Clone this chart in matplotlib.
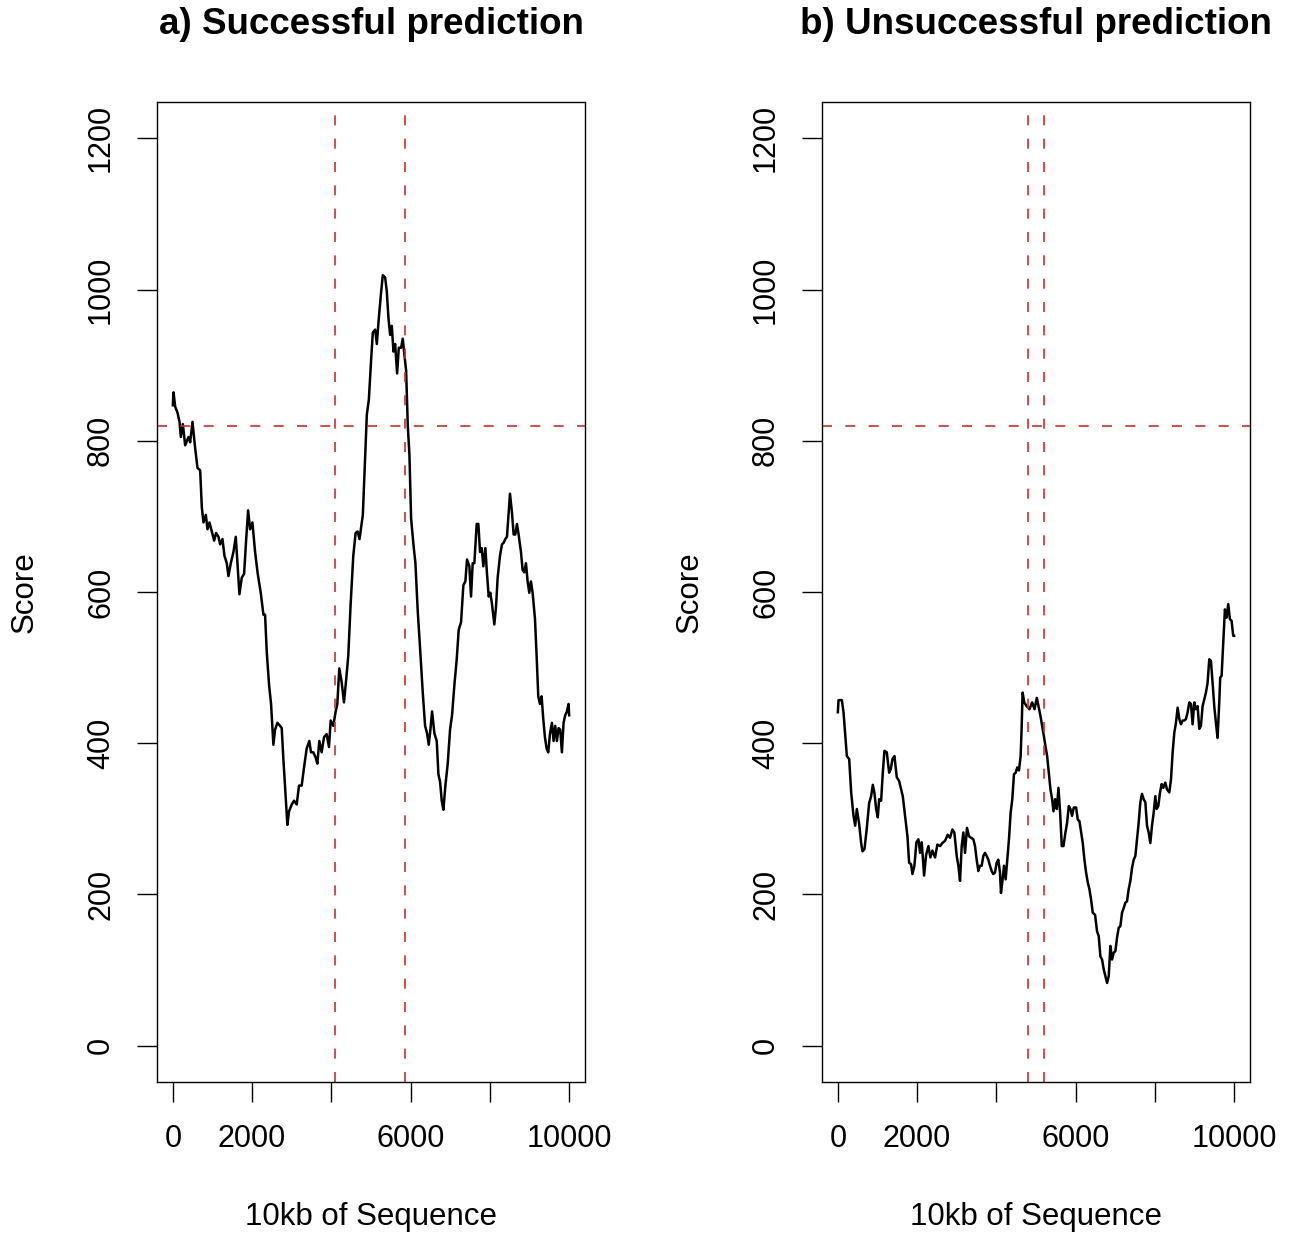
import matplotlib
matplotlib.use("Agg")
import matplotlib.pyplot as plt

plt.rcParams['font.family'] = ['Liberation Sans', 'DejaVu Sans']

# panel a) successful prediction - position along 10kb and score
pos_a = [0, 17, 59, 118, 168, 202, 252, 311, 395, 437, 496, 563, 622, 689, 731,
         773, 832, 874, 924, 983, 1042, 1092, 1151, 1193, 1252, 1302, 1361, 1403,
         1462, 1529, 1588, 1630, 1680, 1739, 1798, 1848, 1899, 1949, 2008, 2075,
         2142, 2218, 2285, 2327, 2369, 2428, 2478, 2537, 2579, 2638, 2705, 2747,
         2789, 2848, 2890, 2932, 2999, 3058, 3125, 3184, 3251, 3310, 3377, 3444,
         3486, 3545, 3604, 3646, 3696, 3755, 3814, 3881, 3940, 3982, 4049, 4108,
         4150, 4200, 4259, 4318, 4368, 4427, 4486, 4553, 4612, 4662,
         4710, 4794, 4836, 4895, 4945, 5004, 5046, 5105, 5147, 5197, 5256, 5298,
         5357, 5399, 5441, 5483, 5525, 5567, 5609, 5659, 5701, 5760, 5802, 5844,
         5886, 5928, 5970, 6012, 6071, 6121, 6180, 6239, 6306, 6365, 6415, 6457,
         6499, 6541, 6600, 6659, 6701, 6743, 6785, 6827, 6877, 6936, 6995, 7045,
         7104, 7163, 7213, 7272, 7331, 7381, 7423, 7482, 7524, 7566, 7608, 7667,
         7709, 7751, 7793, 7835, 7886, 7927, 7970, 8011, 8053, 8112, 8154, 8196,
         8255, 8305, 8347, 8389, 8431, 8473, 8507, 8557, 8599, 8641, 8683, 8725,
         8784, 8826, 8868, 8910, 8952, 8994, 9036, 9078, 9137, 9179, 9221, 9263,
         9305, 9347, 9389, 9431, 9473, 9515, 9565, 9607, 9649, 9691, 9733, 9775,
         9817, 9859, 9901, 9943, 9985, 10000]
score_a = [847, 864, 845, 837, 825, 805, 822, 794, 805, 798, 825, 790, 764, 761, 712,
           692, 702, 683, 692, 680, 668, 678, 673, 663, 670, 648, 638, 621,
           638, 653, 673, 638, 597, 619, 624, 668, 708, 683, 692, 653,
           624, 599, 570, 570, 521, 477, 452, 398, 418, 427, 423, 420,
           379, 329, 292, 310, 319, 324, 319, 344, 344, 368, 393, 403,
           388, 388, 381, 373, 403, 388, 408, 412, 395, 430, 423, 442,
           452, 499, 481, 454, 481, 516, 584, 648, 678, 680,
           670, 702, 756, 835, 854, 908, 943, 947, 928, 962, 997, 1019,
           1016, 997, 962, 940, 952, 918, 928, 889, 923, 923, 935, 913,
           893, 820, 781, 697, 663, 638, 574, 525, 467, 423, 413, 398,
           418, 442, 413, 403, 359, 349, 324, 312, 344, 373, 418, 437,
           477, 511, 550, 560, 609, 614, 643, 634, 594, 638, 638, 690,
           690, 653, 658, 634, 658, 624, 594, 599, 584, 557, 580, 619,
           648, 663, 665, 670, 673, 705, 730, 705, 676, 676, 690, 676,
           653, 629, 626, 638, 614, 599, 614, 599, 565, 516, 462, 452,
           462, 432, 408, 393, 388, 412, 427, 403, 423, 403, 420, 418,
           388, 427, 437, 442, 452, 437]

# panel b) unsuccessful prediction
pos_b = [0, 17, 101, 143, 185, 227, 286, 336, 395, 437, 479, 538, 588, 622, 672,
         731, 790, 840, 882, 924, 966, 1008, 1042, 1092, 1134, 1176, 1235, 1294,
         1336, 1378, 1428, 1487, 1546, 1596, 1638, 1697, 1756, 1798, 1848, 1882,
         1932, 1982, 2033, 2075, 2117, 2176, 2226, 2285, 2335, 2386, 2453, 2512,
         2579, 2638, 2705, 2772, 2831, 2890, 2940, 2999, 3041, 3083, 3125, 3167,
         3209, 3259, 3310, 3360, 3419, 3461, 3503, 3545, 3587, 3629, 3671, 3713,
         3755, 3797, 3839, 3881, 3923, 3965, 4007, 4049, 4091, 4116, 4158, 4192,
         4234, 4276, 4318, 4360, 4402, 4444, 4486, 4528, 4570, 4612, 4637, 4662,
         4704, 4763,
         4836, 4903, 4962, 5021, 5071, 5113, 5155, 5197, 5239, 5281, 5323, 5365,
         5407, 5441, 5483, 5525, 5567, 5609, 5651, 5693, 5743, 5785, 5827, 5869,
         5911, 5953, 6012, 6054, 6096, 6138, 6180, 6222, 6264, 6306, 6348, 6390,
         6432, 6491, 6541, 6583, 6625, 6667, 6709, 6751, 6793, 6835, 6877, 6919,
         6961, 7003, 7045, 7087, 7129, 7171, 7213, 7255, 7297, 7339, 7381, 7423,
         7465, 7507, 7549, 7591, 7633, 7675, 7717, 7759, 7801, 7843, 7885, 7927,
         7969, 8011, 8045, 8087, 8129, 8171, 8213, 8263, 8305, 8364, 8406, 8448,
         8490, 8532, 8574, 8616, 8658, 8700, 8742, 8784, 8826, 8868, 8910, 8952,
         8994, 9036, 9078, 9120, 9162, 9204, 9246, 9288, 9330, 9372, 9414, 9456,
         9498, 9540, 9582, 9624, 9649, 9683, 9725, 9767, 9809, 9851, 9893, 9935,
         9977, 10000]
score_b = [441, 457, 457, 441, 412, 383, 379, 335, 304, 291, 313, 293, 268, 257, 260,
           288, 321, 330, 345, 334, 313, 302, 326, 324, 361, 390, 388, 361,
           366, 379, 383, 355, 350, 339, 330, 304, 277, 242, 240, 227,
           238, 269, 273, 255, 269, 225, 252, 264, 249, 258, 249, 266,
           264, 268, 271, 279, 275, 286, 282, 251, 238, 218, 264, 282,
           255, 288, 277, 275, 273, 264, 246, 231, 238, 238, 251, 255,
           251, 246, 238, 231, 227, 229, 242, 246, 229, 202, 220, 238,
           220, 246, 273, 308, 326, 359, 361, 368, 364, 383, 419, 467,
           454, 449,
           445, 454, 445, 460, 447, 436, 423, 410, 396, 383, 361, 339,
           326, 310, 326, 313, 341, 308, 264, 264, 282, 295, 317, 313,
           304, 315, 315, 299, 297, 282, 268, 246, 229, 216, 207, 193,
           176, 173, 151, 145, 118, 114, 101, 92, 83, 92, 132, 114,
           123, 125, 143, 156, 158, 176, 182, 189, 191, 207, 218, 235,
           246, 251, 273, 295, 322, 333, 326, 322, 291, 282, 268, 291,
           308, 330, 313, 317, 335, 346, 341, 348, 339, 335, 352, 388,
           414, 427, 447, 432, 425, 430, 430, 432, 441, 454, 452, 425,
           454, 445, 449, 419, 423, 449, 458, 467, 480, 511, 509, 480,
           449, 427, 407, 454, 487, 489, 533, 577, 566, 584, 564, 562,
           542, 542]

# threshold score and predicted region boundaries
threshold = 820
bounds_a = [4080, 5870]
bounds_b = [4790, 5190]

titles = ['a) Successful prediction', 'b) Unsuccessful prediction']
xticks = [0, 2000, 4000, 6000, 8000, 10000]
xticklabels = ['0', '2000', '', '6000', '', '10000']
yticks = [0, 200, 400, 600, 800, 1000, 1200]

W, H = 1289, 1237
fig = plt.figure(figsize=(W / 100, H / 100), dpi=100)

boxes = [(157, 102, 585, 1082), (822, 102, 1250, 1082)]
data = [(pos_a, score_a, bounds_a), (pos_b, score_b, bounds_b)]
red = '#C8302F'

for i in range(2):
    x0, y0, x1, y1 = boxes[i]
    ax = fig.add_axes([x0 / W, 1 - y1 / H, (x1 - x0) / W, (y1 - y0) / H])
    pos, score, bounds = data[i]
    ax.plot(pos, score, color='black', lw=1.8)
    ax.axhline(threshold, color=red, lw=1.2, ls=(0, (6, 8)))
    for b in bounds:
        ax.axvline(b, color=red, lw=1.2, ls=(0, (6, 8)))
    ax.set_xlim(-400, 10400)
    ax.set_ylim(-48, 1248)
    ax.set_xticks(xticks)
    ax.set_xticklabels(xticklabels)
    ax.set_yticks(yticks)
    ax.set_yticklabels([str(v) for v in yticks], rotation=90, va='center')
    ax.tick_params(direction='out', length=14.5, width=1.0, labelsize=22,
                   colors='black')
    ax.tick_params(axis='x', pad=16)
    ax.tick_params(axis='y', pad=15)
    for s in ax.spines.values():
        s.set_linewidth(1.0)
        s.set_color('black')
    cx = (x0 + x1) / 2
    fig.text(cx / W, 1 - 25 / H, titles[i], ha='center', va='center',
             fontsize=26.5, fontweight='bold')
    fig.text(cx / W, 1 - 1217 / H, '10kb of Sequence', ha='center',
             va='center', fontsize=22.5)
    fig.text((x0 - 132) / W, 1 - 592 / H, 'Score', ha='center', va='center',
             rotation=90, fontsize=22.5)

fig.savefig('out.png', dpi=100)
